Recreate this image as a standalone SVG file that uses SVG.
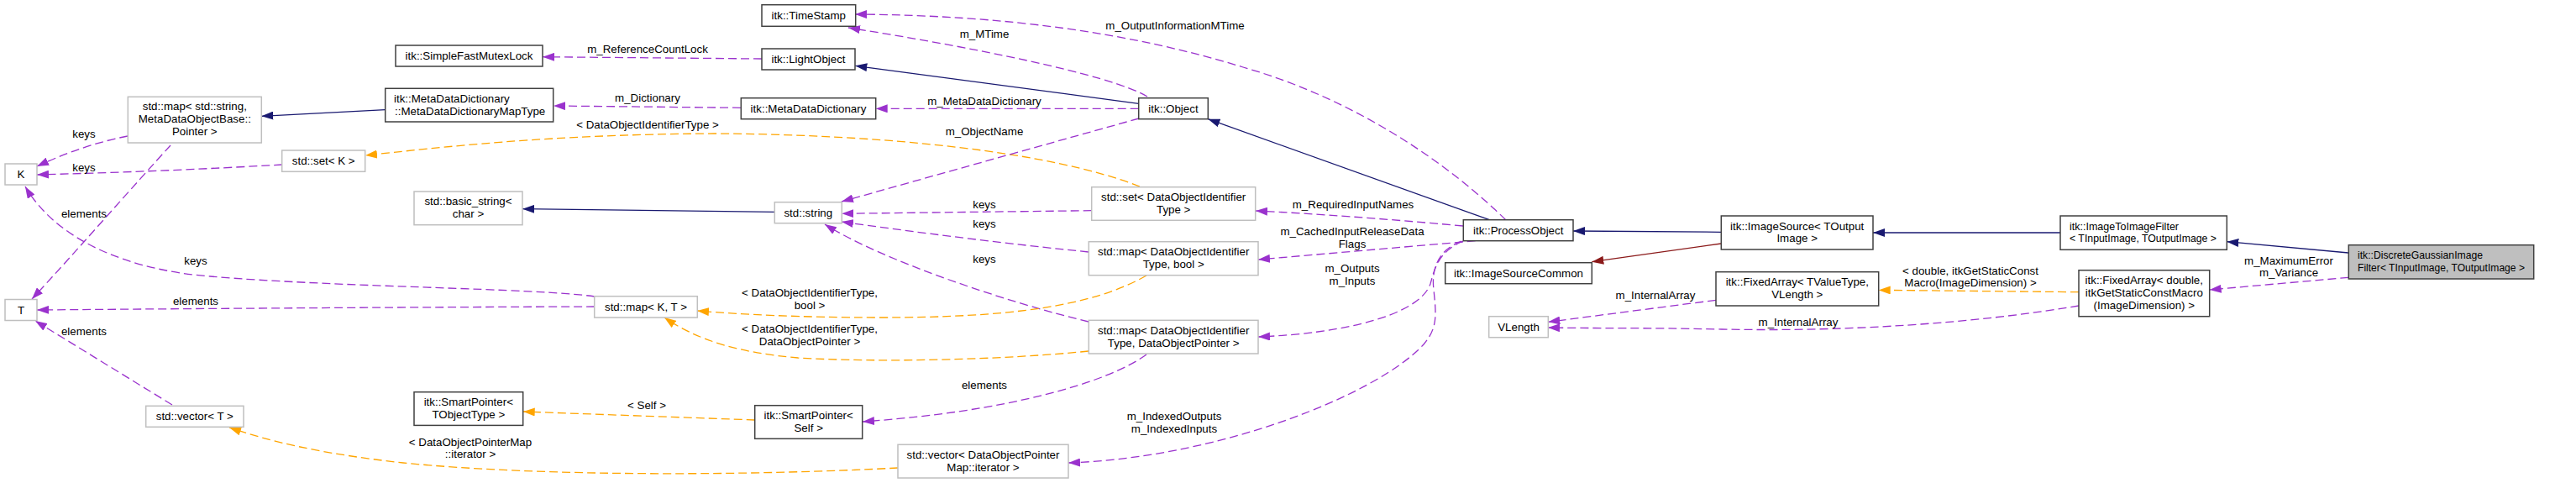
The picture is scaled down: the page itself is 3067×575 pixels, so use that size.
<svg xmlns="http://www.w3.org/2000/svg" width="3067" height="575" viewBox="0 0 3067 575">
<style>
text{font-family:"Liberation Sans",Arial,sans-serif;font-size:13.33px;fill:#000}
.m{text-anchor:middle}
.s{text-anchor:start}
.nb{fill:#fff;stroke:#404040;stroke-width:1.5}
.ng{fill:#fff;stroke:#bfbfbf;stroke-width:1.5}
.nf{fill:#bfbfbf;stroke:#404040;stroke-width:1.5}
.e{fill:none;stroke-width:1.3}
.inh{stroke:#191970;marker-end:url(#ab)}
.pri{stroke:#8b1a1a;marker-end:url(#ar)}
.use{stroke:#9a32cd;stroke-dasharray:10,5;marker-end:url(#ap)}
.tpl{stroke:#ffa500;stroke-dasharray:10,5;marker-end:url(#ao)}
</style>
<defs>
<marker id="ab" viewBox="0 0 14 10" refX="14" refY="5" markerWidth="14" markerHeight="10" markerUnits="userSpaceOnUse" orient="auto"><path d="M0,0 L14,5 L0,10 z" fill="#191970"/></marker>
<marker id="ar" viewBox="0 0 14 10" refX="14" refY="5" markerWidth="14" markerHeight="10" markerUnits="userSpaceOnUse" orient="auto"><path d="M0,0 L14,5 L0,10 z" fill="#8b1a1a"/></marker>
<marker id="ap" viewBox="0 0 14 10" refX="14" refY="5" markerWidth="14" markerHeight="10" markerUnits="userSpaceOnUse" orient="auto"><path d="M0,0 L14,5 L0,10 z" fill="#9a32cd"/></marker>
<marker id="ao" viewBox="0 0 14 10" refX="14" refY="5" markerWidth="14" markerHeight="10" markerUnits="userSpaceOnUse" orient="auto"><path d="M0,0 L14,5 L0,10 z" fill="#ffa500"/></marker>
</defs>
<rect width="3067" height="575" fill="#fff"/>

<g id="connectors">
<path class="e use" d="M152,162 Q100,172 44,198"/>
<text class="m" x="100" y="163.5">keys</text>
<path class="e use" d="M336,196 Q200,204 44,208"/>
<text class="m" x="100" y="203.5">keys</text>
<path class="e use" d="M203,173 C160,220 90,300 38,356"/>
<text class="m" x="100" y="258.5">elements</text>
<path class="e use" d="M708,353 C640,343 400,342 250,329 C160,322 70,290 30,222"/>
<text class="m" x="233" y="315">keys</text>
<path class="e use" d="M708,365 Q400,366 44,369"/>
<text class="m" x="233" y="362.5">elements</text>
<path class="e use" d="M205,482 L42,382"/>
<text class="m" x="100" y="398.5">elements</text>
<path class="e tpl" d="M1357,222 C1250,180 1050,160 850,159 C650,160 520,176 435,185"/>
<text class="m" x="771" y="153">&lt; DataObjectIdentifierType &gt;</text>
<path class="e use" d="M882,128.3 L659,126"/>
<text class="m" x="771" y="121">m_Dictionary</text>
<path class="e use" d="M907,70 L646,67.7"/>
<text class="m" x="771" y="62.5">m_ReferenceCountLock</text>
<path class="e inh" d="M458.7,130.7 L311.3,138.3"/>
<path class="e inh" d="M922.3,252.3 L622,248.7"/>
<path class="e inh" d="M1355.7,123.3 L1018.3,78.3"/>
<path class="e use" d="M1366,115 C1320,88 1150,55 1010,33"/>
<text class="m" x="1172" y="45">m_MTime</text>
<path class="e use" d="M1355.7,129.3 L1042.7,129.3"/>
<text class="m" x="1172" y="125">m_MetaDataDictionary</text>
<path class="e use" d="M1356,141 Q1180,190 1002,240"/>
<text class="m" x="1172" y="161">m_ObjectName</text>
<path class="e use" d="M1299.7,250.7 L1002.3,254.3"/>
<text class="m" x="1172" y="248">keys</text>
<path class="e use" d="M1296,300 Q1150,285 1002,264"/>
<text class="m" x="1172" y="271">keys</text>
<path class="e use" d="M1296,383 C1200,360 1050,310 982,267"/>
<text class="m" x="1172" y="312.5">keys</text>
<path class="e tpl" d="M1365,328 C1300,365 1200,378 1050,378 C950,378 880,374 830,370"/>
<text class="m" x="964" y="352.5">&lt; DataObjectIdentifierType,</text>
<text class="m" x="964" y="367.5">bool &gt;</text>
<path class="e tpl" d="M1296,418 C1200,428 1050,432 950,426 C880,420 830,405 791,378"/>
<text class="m" x="964" y="396">&lt; DataObjectIdentifierType,</text>
<text class="m" x="964" y="410.5">DataObjectPointer &gt;</text>
<path class="e use" d="M1365,422 C1320,455 1200,490 1027,502"/>
<text class="m" x="1172" y="462.5">elements</text>
<path class="e tpl" d="M898.7,500 L622.7,490"/>
<text class="m" x="770" y="487">&lt; Self &gt;</text>
<path class="e tpl" d="M1069,557 C900,566 650,568 480,551 C380,540 320,525 273,509"/>
<text class="m" x="560" y="530.5">&lt; DataObjectPointerMap</text>
<text class="m" x="560" y="545">::iterator &gt;</text>
<path class="e inh" d="M1773.3,261.7 L1438.3,141.7"/>
<path class="e use" d="M1793,262 C1730,200 1620,120 1480,80 C1350,40 1200,18 1018,17"/>
<text class="m" x="1399" y="35">m_OutputInformationMTime</text>
<path class="e use" d="M1742,269 Q1600,256 1495,251"/>
<text class="m" x="1611" y="248">m_RequiredInputNames</text>
<path class="e use" d="M1756.7,286.7 L1498,309"/>
<text class="m" x="1610" y="279.5">m_CachedInputReleaseData</text>
<text class="m" x="1610" y="295">Flags</text>
<path class="e use" d="M1742,287 C1712,300 1708,320 1703,338 C1690,375 1600,397 1498,401"/>
<text class="m" x="1610" y="323.5">m_Outputs</text>
<text class="m" x="1610" y="339">m_Inputs</text>
<path class="e use" d="M1740,287 C1712,298 1704,320 1707,345 C1710,375 1712,390 1695,410 C1640,470 1450,545 1272,551"/>
<text class="m" x="1398" y="500">m_IndexedOutputs</text>
<text class="m" x="1398" y="515">m_IndexedInputs</text>
<path class="e inh" d="M2049.3,276.3 L1873,275"/>
<path class="e pri" d="M2049.3,290 L1895.3,311.7"/>
<path class="e inh" d="M2453,277 L2230,277"/>
<path class="e inh" d="M2796.3,301 L2651.3,287.7"/>
<path class="e use" d="M2796.3,330.3 L2630.7,345"/>
<text class="m" x="2725" y="315">m_MaximumError</text>
<text class="m" x="2725" y="329">m_Variance</text>
<path class="e tpl" d="M2475,347.7 L2236.7,345.3"/>
<text class="m" x="2346" y="327">&lt; double, itkGetStaticConst</text>
<text class="m" x="2346" y="341">Macro(ImageDimension) &gt;</text>
<path class="e use" d="M2043,357.3 L1843.3,383.3"/>
<text class="m" x="1971" y="356">m_InternalArray</text>
<path class="e use" d="M2475,364 C2350,385 2200,395 2050,392 C1960,390 1900,391 1843,390"/>
<text class="m" x="2141" y="388">m_InternalArray</text>
</g>

<g id="node-K"><rect class="ng" x="6" y="195" width="38" height="25"/><text class="m" x="25" y="212">K</text></g>
<g id="node-T"><rect class="ng" x="6" y="356.5" width="38" height="25"/><text class="m" x="25" y="373.5">T</text></g>
<g id="node-map-string"><rect class="ng" x="152.3" y="115.3" width="159" height="54.7"/><text class="m" x="231.8" y="131">std::map&lt; std::string,</text><text class="m" x="231.8" y="146">MetaDataObjectBase::</text><text class="m" x="231.8" y="161">Pointer &gt;</text></g>
<g id="node-set-K"><rect class="ng" x="335.7" y="179" width="99" height="25.3"/><text class="m" x="385.2" y="196">std::set&lt; K &gt;</text></g>
<g id="node-vector-T"><rect class="ng" x="173.7" y="483.3" width="116.3" height="25"/><text class="m" x="231.8" y="500">std::vector&lt; T &gt;</text></g>
<g id="node-mutex"><rect class="nb" x="471" y="54" width="175" height="25"/><text class="m" x="558.5" y="71">itk::SimpleFastMutexLock</text></g>
<g id="node-mddmap"><rect class="nb" x="458.7" y="105.3" width="200" height="39.7"/><text class="s" x="469" y="121.5">itk::MetaDataDictionary</text><text class="s" x="470" y="136.5">::MetaDataDictionaryMapType</text></g>
<g id="node-basic-string"><rect class="ng" x="493" y="228" width="129" height="39.7"/><text class="m" x="557.5" y="244">std::basic_string&lt;</text><text class="m" x="557.5" y="258.7">char &gt;</text></g>
<g id="node-sp-tobj"><rect class="nb" x="493" y="466.7" width="129.7" height="39.7"/><text class="m" x="557.8" y="483">itk::SmartPointer&lt;</text><text class="m" x="557.8" y="497.7">TObjectType &gt;</text></g>
<g id="node-timestamp"><rect class="nb" x="907" y="5.7" width="111.7" height="25.6"/><text class="m" x="962.8" y="22.5">itk::TimeStamp</text></g>
<g id="node-lightobject"><rect class="nb" x="907" y="58" width="111" height="25"/><text class="m" x="962.5" y="75">itk::LightObject</text></g>
<g id="node-mdd"><rect class="nb" x="882.3" y="116.7" width="160.4" height="25"/><text class="m" x="962.5" y="133.5">itk::MetaDataDictionary</text></g>
<g id="node-object"><rect class="nb" x="1355.7" y="116.7" width="82.6" height="25"/><text class="m" x="1397" y="133.5">itk::Object</text></g>
<g id="node-string"><rect class="ng" x="922.3" y="240.7" width="80" height="25"/><text class="m" x="962.3" y="257.5">std::string</text></g>
<g id="node-set-doi"><rect class="ng" x="1299.7" y="222.7" width="195" height="39.6"/><text class="m" x="1397.2" y="239.2">std::set&lt; DataObjectIdentifier</text><text class="m" x="1397.2" y="254">Type &gt;</text></g>
<g id="node-map-doi-bool"><rect class="ng" x="1296.3" y="287.7" width="201.7" height="40"/><text class="m" x="1397.2" y="304.2">std::map&lt; DataObjectIdentifier</text><text class="m" x="1397.2" y="319">Type, bool &gt;</text></g>
<g id="node-map-doi-dop"><rect class="ng" x="1296.3" y="381.3" width="201.7" height="39.7"/><text class="m" x="1397.2" y="397.8">std::map&lt; DataObjectIdentifier</text><text class="m" x="1397.2" y="412.6">Type, DataObjectPointer &gt;</text></g>
<g id="node-vector-dop"><rect class="ng" x="1069" y="529.3" width="203" height="39.7"/><text class="m" x="1170.5" y="545.8">std::vector&lt; DataObjectPointer</text><text class="m" x="1170.5" y="560.6">Map::iterator &gt;</text></g>
<g id="node-sp-self"><rect class="nb" x="898.7" y="482.7" width="128" height="39.6"/><text class="m" x="962.7" y="499.2">itk::SmartPointer&lt;</text><text class="m" x="962.7" y="514">Self &gt;</text></g>
<g id="node-map-KT"><rect class="ng" x="707.7" y="352.7" width="122.6" height="25.3"/><text class="m" x="769" y="369.5">std::map&lt; K, T &gt;</text></g>
<g id="node-processobject"><rect class="nb" x="1742.3" y="261.7" width="130.7" height="25"/><text class="m" x="1807.7" y="278.5">itk::ProcessObject</text></g>
<g id="node-imagesourcecommon"><rect class="nb" x="1720.7" y="312.7" width="174.6" height="25"/><text class="m" x="1808" y="329.5">itk::ImageSourceCommon</text></g>
<g id="node-vlength"><rect class="ng" x="1772.7" y="376.7" width="70.6" height="25"/><text class="m" x="1808" y="393.5">VLength</text></g>
<g id="node-imagesource"><rect class="nb" x="2049.3" y="257" width="180.7" height="40"/><text class="m" x="2139.7" y="273.5">itk::ImageSource&lt; TOutput</text><text class="m" x="2139.7" y="288.3">Image &gt;</text></g>
<g id="node-fixedarray-tv"><rect class="nb" x="2043" y="323.7" width="193.7" height="40.3"/><text class="m" x="2139.8" y="340.2">itk::FixedArray&lt; TValueType,</text><text class="m" x="2139.8" y="355">VLength &gt;</text></g>
<g id="node-imagetoimagefilter"><rect class="nb" x="2453" y="257" width="198.3" height="40.3"/><text class="s" x="2464" y="273.5" textLength="130" lengthAdjust="spacingAndGlyphs">itk::ImageToImageFilter</text><text class="s" x="2464" y="288.3" textLength="175" lengthAdjust="spacingAndGlyphs">&lt; TInputImage, TOutputImage &gt;</text></g>
<g id="node-fixedarray-double"><rect class="nb" x="2475" y="321.7" width="155.7" height="55"/><text class="m" x="2552.8" y="337.7">itk::FixedArray&lt; double,</text><text class="m" x="2552.8" y="352.7">itkGetStaticConstMacro</text><text class="m" x="2552.8" y="367.7">(ImageDimension) &gt;</text></g>
<g id="node-discretegaussian"><rect class="nf" x="2796.3" y="291.7" width="220.4" height="40.3"/><text class="s" x="2807" y="308.2" textLength="149" lengthAdjust="spacingAndGlyphs">itk::DiscreteGaussianImage</text><text class="s" x="2807" y="323" textLength="199" lengthAdjust="spacingAndGlyphs">Filter&lt; TInputImage, TOutputImage &gt;</text></g>
</svg>
